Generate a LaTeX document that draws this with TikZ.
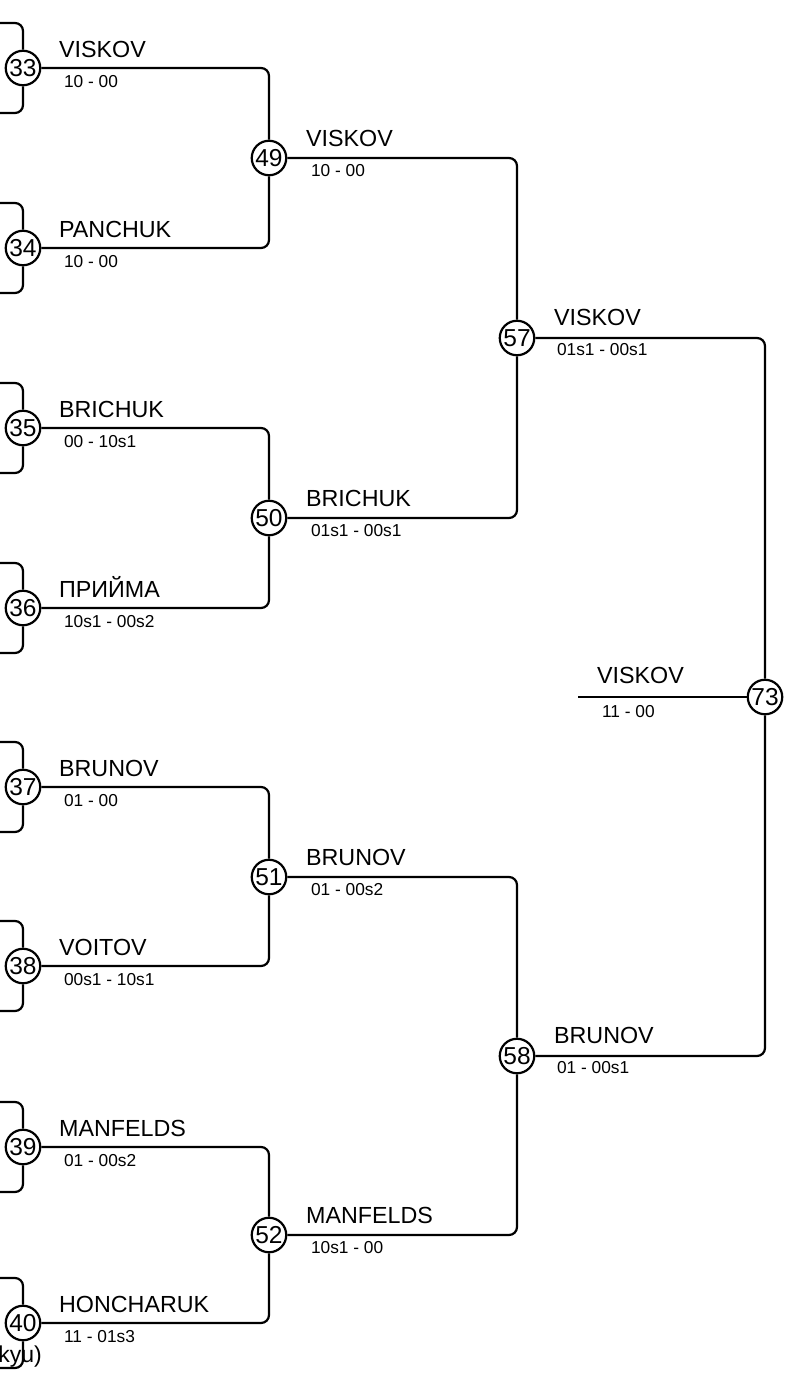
\documentclass[tikz,border=0pt]{standalone}
\usepackage{fontspec}
\setmainfont{Liberation Sans}
\begin{document}
\begin{tikzpicture}[x=1pt,y=-1pt,
  line width=2.2pt,
  mnode/.style={circle,draw,fill=white,minimum size=34.5pt,inner sep=0pt,font=\fontsize{24.5}{24.5}\selectfont},
  wline/.style={rounded corners=8pt},
  pname/.style={anchor=base west,inner sep=0pt,font=\fontsize{23.3}{24}\selectfont},
  pscore/.style={anchor=base west,inner sep=0pt,font=\fontsize{17.3}{18}\selectfont}]
\useasboundingbox (0,0) rectangle (790,1379);
\clip (0,0) rectangle (790,1379);
% cut-off text at bottom left
\node[anchor=base east,inner sep=0pt,font=\fontsize{23}{24}\selectfont] (kyu) at (43,1362) {kyu)};
% round 1
\node[mnode] (m33) at (23,68) {33};
\node[mnode] (m34) at (23,248) {34};
\node[mnode] (m35) at (23,428) {35};
\node[mnode] (m36) at (23,608) {36};
\node[mnode] (m37) at (23,787) {37};
\node[mnode] (m38) at (23,966) {38};
\node[mnode] (m39) at (23,1147) {39};
\node[mnode] (m40) at (23,1323) {40};
% round 2
\node[mnode] (m49) at (269,158) {49};
\node[mnode] (m50) at (269,518) {50};
\node[mnode] (m51) at (269,877) {51};
\node[mnode] (m52) at (269,1235) {52};
% round 3
\node[mnode] (m57) at (517,338) {57};
\node[mnode] (m58) at (517,1056) {58};
% final
\node[mnode] (m73) at (765,697) {73};
\coordinate (w73) at (578,697);
% bracket ends (cut off at the left edge)
\foreach \n/\y in {33/68,34/248,35/428,36/608,37/787,38/966,39/1147,40/1323}{
  \coordinate (t\n) at (-20,\y-45);
  \coordinate (b\n) at (-20,\y+45);
}
\foreach \n in {33,34,35,36,37,38,39,40}{
  \draw[wline] (t\n) -- (t\n -| m\n) -- (m\n);
  \draw[wline] (m\n) -- (b\n -| m\n) -- (b\n);
}
% connectors
\draw[wline] (m33) -- (m33 -| m49) -- (m49);
\draw[wline] (m34) -- (m34 -| m49) -- (m49);
\draw[wline] (m35) -- (m35 -| m50) -- (m50);
\draw[wline] (m36) -- (m36 -| m50) -- (m50);
\draw[wline] (m37) -- (m37 -| m51) -- (m51);
\draw[wline] (m38) -- (m38 -| m51) -- (m51);
\draw[wline] (m39) -- (m39 -| m52) -- (m52);
\draw[wline] (m40) -- (m40 -| m52) -- (m52);
\draw[wline] (m49) -- (m49 -| m57) -- (m57);
\draw[wline] (m50) -- (m50 -| m57) -- (m57);
\draw[wline] (m51) -- (m51 -| m58) -- (m58);
\draw[wline] (m52) -- (m52 -| m58) -- (m58);
\draw[wline] (m57) -- (m57 -| m73) -- (m73);
\draw[wline] (m58) -- (m58 -| m73) -- (m73);
\draw (w73) -- (m73);
% labels round 1
\node[pname] (n33) at (58,57) {VISKOV};
\node[pscore] (s33) at (63,87) {10 - 00};
\node[pname] (n34) at (58,237) {PANCHUK};
\node[pscore] (s34) at (63,267) {10 - 00};
\node[pname] (n35) at (58,417) {BRICHUK};
\node[pscore] (s35) at (63,447) {00 - 10s1};
\node[pname] (n36) at (58,597) {ПРИЙМА};
\node[pscore] (s36) at (63,627) {10s1 - 00s2};
\node[pname] (n37) at (58,776) {BRUNOV};
\node[pscore] (s37) at (63,806) {01 - 00};
\node[pname] (n38) at (58,955) {VOITOV};
\node[pscore] (s38) at (63,985) {00s1 - 10s1};
\node[pname] (n39) at (58,1136) {MANFELDS};
\node[pscore] (s39) at (63,1166) {01 - 00s2};
\node[pname] (n40) at (58,1312) {HONCHARUK};
\node[pscore] (s40) at (63,1342) {11 - 01s3};
% labels round 2
\node[pname] (n49) at (305,146) {VISKOV};
\node[pscore] (s49) at (310,176) {10 - 00};
\node[pname] (n50) at (305,506) {BRICHUK};
\node[pscore] (s50) at (310,536) {01s1 - 00s1};
\node[pname] (n51) at (305,865) {BRUNOV};
\node[pscore] (s51) at (310,895) {01 - 00s2};
\node[pname] (n52) at (305,1223) {MANFELDS};
\node[pscore] (s52) at (310,1253) {10s1 - 00};
% labels round 3
\node[pname] (n57) at (553,325) {VISKOV};
\node[pscore] (s57) at (556,355) {01s1 - 00s1};
\node[pname] (n58) at (553,1043) {BRUNOV};
\node[pscore] (s58) at (556,1073) {01 - 00s1};
% winner
\node[pname] (n73) at (596,683) {VISKOV};
\node[pscore] (s73) at (601,717) {11 - 00};
\end{tikzpicture}
\end{document}
